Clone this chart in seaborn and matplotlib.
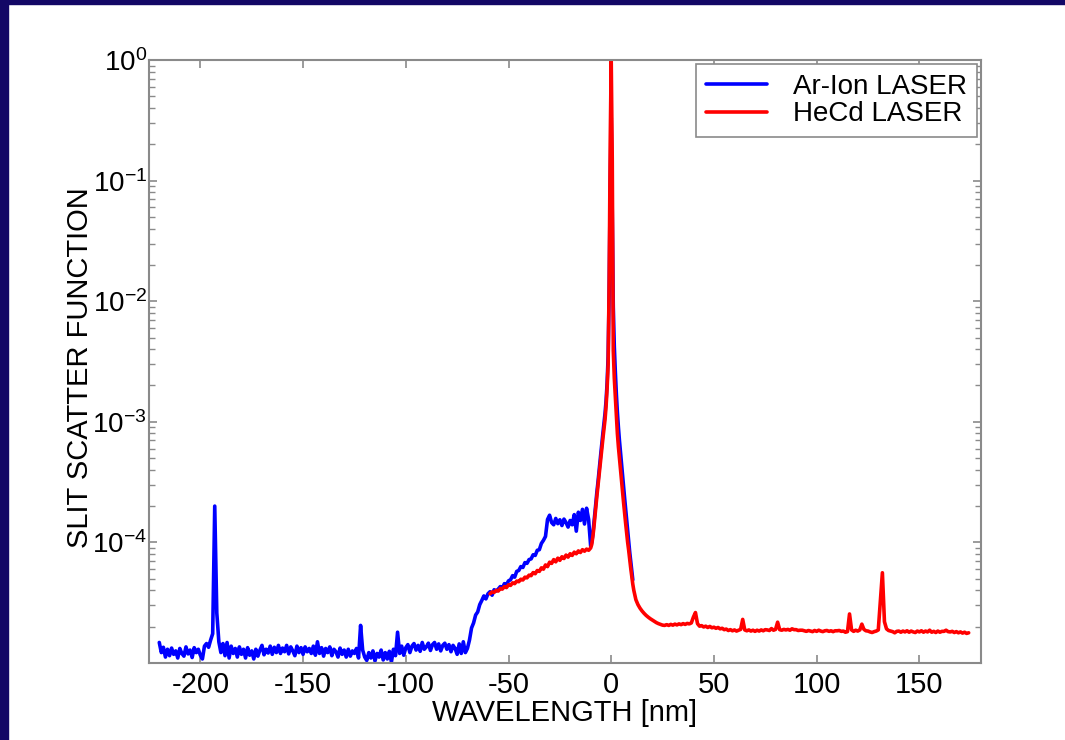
import numpy as np
import pandas as pd
import matplotlib
matplotlib.use("Agg")
import matplotlib.pyplot as plt
from matplotlib.patches import Rectangle
from matplotlib.ticker import LogLocator, NullFormatter, FixedLocator
import seaborn as sns

# ---------------- data (values in units of 1e-5) ----------------
SCALE = 1e-5

# Ar-Ion LASER: baseline -220 .. -70 nm (step 1)
blue_base_x = list(range(-220, -69))
blue_base_y = [
    1.48, 1.22, 1.35, 1.12, 1.30, 1.15, 1.33, 1.18, 1.26, 1.10,
    1.32, 1.20, 1.14, 1.36, 1.19, 1.28, 1.11, 1.34, 1.22, 1.30,
    1.16, 1.08, 1.38, 1.45, 1.35, 1.55, 1.75, 20.0, 2.60, 1.50,
    1.22, 1.45, 1.15, 1.48, 1.10, 1.38, 1.20, 1.32, 1.12, 1.36,
    1.18, 1.30, 1.10, 1.34, 1.16, 1.26, 1.08, 1.30, 1.14, 1.28,
    1.40, 1.17, 1.30, 1.21, 1.38, 1.18, 1.35, 1.22, 1.40, 1.20,
    1.33, 1.24, 1.40, 1.19, 1.36, 1.26, 1.15, 1.38, 1.22, 1.34,
    1.18, 1.36, 1.24, 1.32, 1.20, 1.38, 1.16, 1.50, 1.20, 1.34,
    1.14, 1.32, 1.22, 1.36, 1.15, 1.30, 1.24, 1.12, 1.33, 1.18,
    1.28, 1.12, 1.30, 1.14, 1.26, 1.20, 1.32, 1.10, 2.05, 1.28,
    1.12, 1.05, 1.22, 1.10, 1.26, 1.04, 1.20, 1.12, 1.28, 1.06,
    1.22, 1.08, 1.25, 1.02, 1.30, 1.15, 1.80, 1.20, 1.38, 1.16,
    1.34, 1.42, 1.22, 1.38, 1.45, 1.28, 1.40, 1.25, 1.48, 1.30,
    1.36, 1.46, 1.27, 1.42, 1.48, 1.30, 1.44, 1.26, 1.40, 1.46,
    1.30, 1.42, 1.24, 1.40, 1.32, 1.18, 1.44, 1.20, 1.50, 1.22,
    1.32,
]
# Ar-Ion LASER: rise and shoulder -69 .. -11 nm (step 1)
blue_shoulder_x = list(range(-69, -10))
blue_shoulder_y = [
    1.55, 1.95, 2.15, 2.50, 2.65, 3.05, 3.30, 3.60, 3.40, 3.75,
    3.90, 3.65, 4.05, 3.95, 4.10, 4.30, 4.15, 4.55, 4.45, 4.80,
    4.90, 5.30, 5.15, 5.75, 5.85, 6.30, 6.20, 6.80, 6.70, 7.20,
    7.30, 7.90, 7.80, 8.60, 8.70, 9.80, 10.4, 11.2, 15.5, 16.8,
    14.6, 14.0, 15.8, 14.3, 15.4, 13.8, 15.6, 14.6, 13.4, 15.2,
    14.0, 17.0, 12.4, 17.8, 15.2, 18.8, 14.2, 19.2, 15.5,
]
# Ar-Ion LASER: central line -10 .. 10.5 nm (step 0.5)
blue_peak_x = [-10.0, -9.5, -9.0, -8.5, -8.0, -7.5, -7.0, -6.5, -6.0, -5.5,
               -5.0, -4.5, -4.0, -3.5, -3.0, -2.5, -2.0, -1.5, -1.0, -0.5,
               0.0, 0.5, 1.0, 1.5, 2.0, 2.5, 3.0, 3.5, 4.0, 4.5,
               5.0, 5.5, 6.0, 6.5, 7.0, 7.5, 8.0, 8.5, 9.0, 9.5,
               10.0, 10.5]
blue_peak_y = [9.3, 10.0, 11.5, 14.0, 17.0, 21.0, 26.0, 31.0, 38.0, 46.0,
               56.0, 68.0, 82.0, 98.0, 118.0, 150.0, 210.0, 350.0, 1200.0, 9000.0,
               33000.0, 5000.0, 900.0, 420.0, 260.0, 170.0, 120.0, 90.0, 70.0, 56.0,
               45.0, 36.0, 29.0, 23.5, 19.0, 15.5, 12.5, 10.0, 8.3, 7.0,
               5.8, 4.9]

# HeCd LASER: shoulder -59 .. -11 nm (step 1)
red_shoulder_x = list(range(-59, -10))
red_shoulder_y = [
    3.75, 3.88, 3.85, 4.00, 3.95, 4.15, 4.10, 4.30, 4.22, 4.45,
    4.40, 4.62, 4.55, 4.78, 4.72, 4.95, 4.88, 5.15, 5.08, 5.35,
    5.30, 5.62, 5.50, 5.85, 5.75, 6.15, 6.00, 6.50, 6.30, 6.85,
    6.70, 7.20, 6.90, 7.40, 7.10, 7.60, 7.35, 7.85, 7.55, 8.05,
    7.80, 8.30, 8.05, 8.50, 8.25, 8.70, 8.45, 8.80, 8.60,
]
# HeCd LASER: central line -10 .. 12 nm (step 0.5)
red_peak_x = [-10.0, -9.5, -9.0, -8.5, -8.0, -7.5, -7.0, -6.5, -6.0, -5.5,
              -5.0, -4.5, -4.0, -3.5, -3.0, -2.5, -2.0, -1.5, -1.0, -0.5,
              0.0, 0.5, 1.0, 1.5, 2.0, 2.5, 3.0, 3.5, 4.0, 4.5,
              5.0, 5.5, 6.0, 6.5, 7.0, 7.5, 8.0, 8.5, 9.0, 9.5,
              10.0, 10.5, 11.0, 11.5, 12.0]
red_peak_y = [9.0, 9.6, 11.0, 13.0, 16.0, 20.0, 24.0, 29.0, 35.0, 43.0,
              52.0, 62.0, 74.0, 88.0, 105.0, 135.0, 190.0, 300.0, 1500.0, 20000.0,
              100000.0, 15000.0, 390.0, 230.0, 160.0, 115.0, 80.0, 62.0, 50.0, 41.0,
              33.0, 26.0, 21.5, 17.5, 14.5, 12.0, 10.0, 8.6, 7.2, 6.1,
              5.2, 4.5, 4.0, 3.65, 3.35]
# HeCd LASER: tail 13 .. 174 nm (step 1)
red_tail_x = list(range(13, 175))
red_tail_y = [
    3.05, 2.85, 2.70, 2.58, 2.48, 2.40, 2.33, 2.27, 2.21, 2.16,
    2.12, 2.09, 2.06, 2.05, 2.08, 2.05, 2.09, 2.06, 2.10, 2.07,
    2.11, 2.08, 2.12, 2.09, 2.13, 2.11, 2.15, 2.40, 2.62, 2.12,
    2.02, 2.04, 1.99, 2.02, 1.97, 2.01, 1.96, 1.98, 1.94, 1.97,
    1.92, 1.94, 1.89, 1.91, 1.86, 1.89, 1.85, 1.88, 1.84, 1.87,
    1.90, 2.30, 1.88, 1.85, 1.88, 1.84, 1.87, 1.83, 1.87, 1.84,
    1.88, 1.85, 1.89, 1.88, 1.86, 1.93, 1.87, 1.90, 2.18, 1.89,
    1.87, 1.90, 1.88, 1.90, 1.87, 1.92, 1.89, 1.89, 1.86, 1.87,
    1.87, 1.85, 1.83, 1.86, 1.84, 1.82, 1.86, 1.83, 1.87, 1.84,
    1.82, 1.85, 1.86, 1.83, 1.85, 1.82, 1.85, 1.85, 1.86, 1.83,
    1.84, 1.80, 1.82, 2.55, 1.88, 1.83, 1.87, 1.84, 1.88, 2.10,
    1.90, 1.85, 1.84, 1.81, 1.79, 1.82, 1.84, 1.88, 3.20, 5.60,
    2.20, 1.92, 1.86, 1.84, 1.82, 1.78, 1.83, 1.84, 1.80, 1.84,
    1.81, 1.85, 1.80, 1.84, 1.81, 1.79, 1.84, 1.81, 1.85, 1.80,
    1.84, 1.81, 1.87, 1.80, 1.83, 1.79, 1.84, 1.80, 1.83, 1.83,
    1.87, 1.82, 1.81, 1.83, 1.79, 1.82, 1.78, 1.81, 1.77, 1.80,
    1.76, 1.78,
]

series_names = ["Ar-Ion LASER", "HeCd LASER"]
series_colors = ["#0000ff", "#ff0000"]
x_ticks = [-200, -150, -100, -50, 0, 50, 100, 150]
y_ticks = [1e-4, 1e-3, 1e-2, 1e-1, 1e0]

# ---------------- assemble ----------------
bx = blue_base_x + blue_shoulder_x + blue_peak_x
by = blue_base_y + blue_shoulder_y + blue_peak_y
rx = red_shoulder_x + red_peak_x + red_tail_x
ry = red_shoulder_y + red_peak_y + red_tail_y
assert len(bx) == len(by) and len(rx) == len(ry)

df = pd.concat([
    pd.DataFrame({"x": bx, "y": np.array(by) * SCALE, "laser": series_names[0]}),
    pd.DataFrame({"x": rx, "y": np.array(ry) * SCALE, "laser": series_names[1]}),
], ignore_index=True)

# ---------------- style ----------------
sns.set_style("ticks")
plt.rcParams["font.family"] = ["Liberation Sans", "DejaVu Sans"]
plt.rcParams["mathtext.fontset"] = "custom"
plt.rcParams["mathtext.rm"] = "Liberation Sans"
plt.rcParams["mathtext.it"] = "Liberation Sans"
plt.rcParams["mathtext.default"] = "regular"
plt.rcParams["axes.unicode_minus"] = False
plt.rcParams["text.color"] = "black"
plt.rcParams["axes.labelcolor"] = "black"

fig = plt.figure(figsize=(10.65, 7.4), dpi=100, facecolor="white")
navy = "#130766"
fig.patches.append(Rectangle((0, 0), 8 / 1065, 1, transform=fig.transFigure, color=navy, zorder=0))
fig.patches.append(Rectangle((0, 1 - 4 / 740), 1, 4 / 740, transform=fig.transFigure, color=navy, zorder=0))

ax = fig.add_axes([149 / 1065, 77 / 740, (981 - 149) / 1065, (663 - 60) / 740])

sns.lineplot(data=df, x="x", y="y", hue="laser", hue_order=series_names,
             palette=series_colors, sort=False, estimator=None,
             linewidth=2.6, ax=ax)

ax.set_yscale("log")
ax.set_xlim(-225, 180)
ax.set_ylim(1e-5, 1.0)
ax.xaxis.set_major_locator(FixedLocator(x_ticks))
ax.set_xticklabels([str(t) for t in x_ticks])
ax.yaxis.set_major_locator(FixedLocator(y_ticks))
ax.yaxis.set_minor_locator(LogLocator(base=10, subs=np.arange(2, 10), numticks=20))
ax.yaxis.set_minor_formatter(NullFormatter())

spine_c = "#8a8a8a"
for s in ax.spines.values():
    s.set_color(spine_c)
    s.set_linewidth(1.5)
ax.tick_params(which="both", direction="in", top=True, right=True, color=spine_c,
               labelcolor="black")
ax.tick_params(axis="x", which="major", pad=6, labelsize=21)
ax.tick_params(axis="y", which="major", pad=1.5, labelsize=20)
ax.tick_params(which="major", length=6, width=1.2)
ax.tick_params(which="minor", length=4, width=1.0)

ax.set_xlabel("WAVELENGTH [nm]", fontsize=21, labelpad=0)
ax.set_ylabel("SLIT SCATTER FUNCTION", fontsize=21)
ax.yaxis.set_label_coords(-0.066, 0.49)

leg = ax.legend(loc="upper right", fontsize=20, frameon=True, fancybox=False,
                edgecolor=spine_c, framealpha=1, borderaxespad=0.15,
                handlelength=2.2, handletextpad=0.95, borderpad=0.35, labelspacing=0.05)
leg.get_frame().set_linewidth(1.2)
for t in leg.get_texts():
    t.set_color("black")

fig.savefig("out.png", dpi=100, facecolor="white")
